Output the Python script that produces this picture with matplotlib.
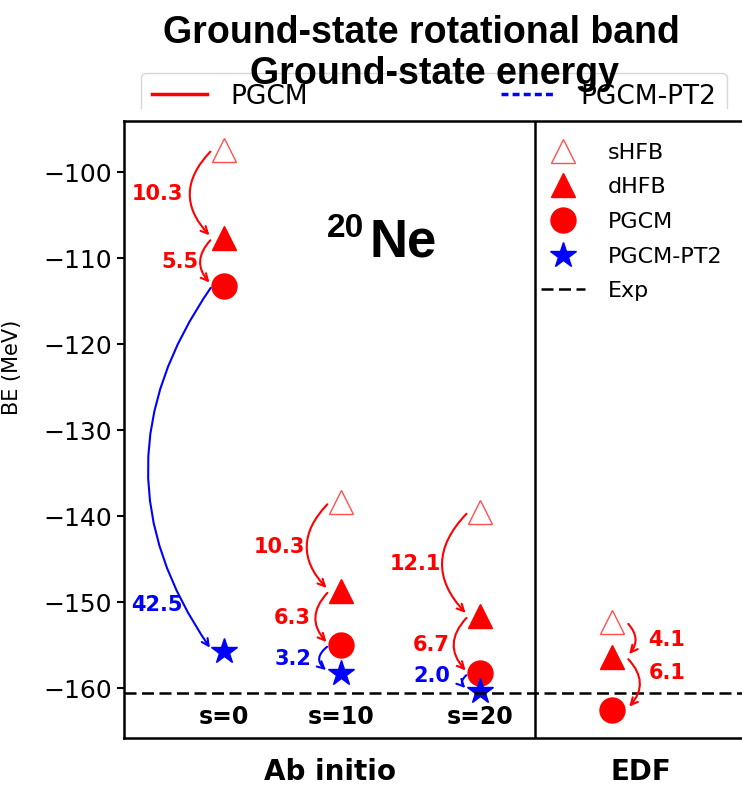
import matplotlib
matplotlib.use("Agg")
import matplotlib.pyplot as plt
from matplotlib.lines import Line2D
from matplotlib.transforms import Bbox, TransformedBbox, blended_transform_factory

# column positions: ab initio s=0, s=10, s=20, then EDF
x_pos = [1.0, 2.0, 3.19, 4.32]
col_labels = ["s=0", "s=10", "s=20"]
x_split = 3.66

# binding energies (MeV): sHFB start values and the gains between levels
be_shfb = [-97.4, -138.4, -139.5, -152.3]
gain_sd = [10.3, 10.3, 12.1, 4.1]    # sHFB -> dHFB
gain_dp = [5.5, 6.3, 6.7, 6.1]       # dHFB -> PGCM
gain_pt2 = [42.5, 3.2, 2.0]          # PGCM -> PGCM-PT2
be_exp = -160.6

be_dhfb = [s - g for s, g in zip(be_shfb, gain_sd)]
be_pgcm = [d - g for d, g in zip(be_dhfb, gain_dp)]
be_pt2 = [p - g for p, g in zip(be_pgcm, gain_pt2)]

yticks = [-100, -110, -120, -130, -140, -150, -160]

# label offsets in pixels (x of text edge, y shift from arrow midpoint)
off_sd = [(-41, 0), (-36, 0), (-39, 0), (36, 0)]
off_dp = [(-26, 0), (-30, 0), (-31, 0), (36, 10)]
off_pt2 = [(-41, -137), (-30, 0), (-30, 6)]

RED = "#ff0000"
BLUE = "#0000ff"
PX = 0.72  # points per pixel at dpi 100

fig = plt.figure(figsize=(7.42, 7.98), dpi=100)
ax = fig.add_axes([124 / 742, 60 / 798, 624 / 742, 617 / 798])

ax.set_xlim(0.145, 5.48)
ax.set_ylim(-165.8, -94.07)


def curved(x, y1, y2, color, rad, dx):
    ax.annotate("", xy=(x + dx, y2), xytext=(x + dx, y1),
                arrowprops=dict(arrowstyle="->,head_length=0.5,head_width=0.25",
                                color=color, lw=1.5, shrinkA=2, shrinkB=3,
                                connectionstyle="arc3,rad=%g" % rad))


def gain_label(text, x, ymid, off, color):
    ha = "left" if off[0] > 0 else "right"
    ax.annotate(text, xy=(x, ymid), xytext=(off[0] * PX, off[1] * PX),
                textcoords="offset points", ha=ha, va="center",
                color=color, fontsize=15, fontweight="bold")


for i, x in enumerate(x_pos):
    edf = i == 3
    dx = 0.12 if edf else -0.1
    rad = -0.5 if edf else 0.5
    curved(x, be_shfb[i], be_dhfb[i], RED, rad, dx)
    curved(x, be_dhfb[i], be_pgcm[i], RED, rad, dx)
    gain_label("%.1f" % gain_sd[i], x, (be_shfb[i] + be_dhfb[i]) / 2, off_sd[i], RED)
    gain_label("%.1f" % gain_dp[i], x, (be_dhfb[i] + be_pgcm[i]) / 2, off_dp[i], RED)
    if not edf:
        curved(x, be_pgcm[i], be_pt2[i], BLUE, 0.35 if i == 0 else 0.7, dx)
        gain_label("%.1f" % gain_pt2[i], x, (be_pgcm[i] + be_pt2[i]) / 2, off_pt2[i], BLUE)

ax.plot(x_pos, be_shfb, ls="none", marker="^", ms=17, mfc="none",
        mec="#ff5050", mew=1.0, label="sHFB")
ax.plot(x_pos, be_dhfb, ls="none", marker="^", ms=17, color=RED, label="dHFB")
ax.plot(x_pos, be_pgcm, ls="none", marker="o", ms=18, color=RED, label="PGCM")
ax.plot(x_pos[:3], be_pt2, ls="none", marker="*", ms=19, color=BLUE, label="PGCM-PT2")
ax.axhline(be_exp, color="black", ls="--", lw=1.8, dashes=(4.8, 2.2), label="Exp")

ax.axvline(x_split, color="black", lw=1.8)

ax.legend(loc="upper left", bbox_to_anchor=(0.668, 0.965), frameon=False,
          fontsize=16, borderpad=0, handlelength=2.0, handletextpad=1.0,
          labelspacing=0.66, borderaxespad=0)

ax.set_yticks(yticks)
ax.set_yticklabels(["\u2212%d" % abs(v) for v in yticks])
ax.set_xticks([])
ax.tick_params(axis="y", labelsize=18, length=5, width=1.5)
for sp in ax.spines.values():
    sp.set_linewidth(1.8)
ax.set_ylabel("BE (MeV)", fontsize=15)
ax.yaxis.set_label_coords(-0.163, 0.6)

trans = blended_transform_factory(ax.transData, ax.transAxes)
for x, lab in zip(x_pos, col_labels):
    ax.text(x, 0.034, lab, transform=trans, ha="center", va="center",
            fontsize=17, fontweight="bold")

ax.text(0.394, 0.781, "Ne", transform=ax.transAxes, ha="left", va="baseline",
        fontsize=38, fontweight="bold", family="Liberation Sans")
ax.text(0.325, 0.812, "20", transform=ax.transAxes, ha="left", va="baseline",
        fontsize=24, fontweight="bold", family="Liberation Sans")

fig.text(329.5 / 742, 1 - 772 / 798, "Ab initio", ha="center", va="center",
         fontsize=20, fontweight="bold")
fig.text(641 / 742, 1 - 772 / 798, "EDF", ha="center", va="center",
         fontsize=20, fontweight="bold")

# shared legend of the band panel, cut at the bottom
top_handles = [Line2D([], [], color=RED, lw=2.5),
               Line2D([], [], color=BLUE, lw=2.5, ls="--", dashes=(2, 1.2))]
leg = fig.legend(top_handles, ["PGCM", "PGCM-PT2"], ncol=2, fontsize=19,
                 loc="upper left", bbox_to_anchor=(141 / 742, 1 - 73 / 798),
                 borderaxespad=0, handlelength=2.1, handletextpad=0.9,
                 columnspacing=7.3)
leg.set_zorder(1)
leg.get_frame().set_clip_box(
    TransformedBbox(Bbox([[0, 1 - 109 / 798], [1, 1]]), fig.transFigure))
leg.get_frame().set_clip_on(True)

fig.text(421 / 742, 1 - 33 / 798, "Ground-state rotational band", ha="center",
         va="center", fontsize=27, fontweight="bold", family="Liberation Sans",
         zorder=10)
fig.text(435 / 742, 1 - 74 / 798, "Ground-state energy", ha="center",
         va="center", fontsize=27, fontweight="bold", family="Liberation Sans",
         zorder=10)

fig.savefig("out.png", dpi=100)
